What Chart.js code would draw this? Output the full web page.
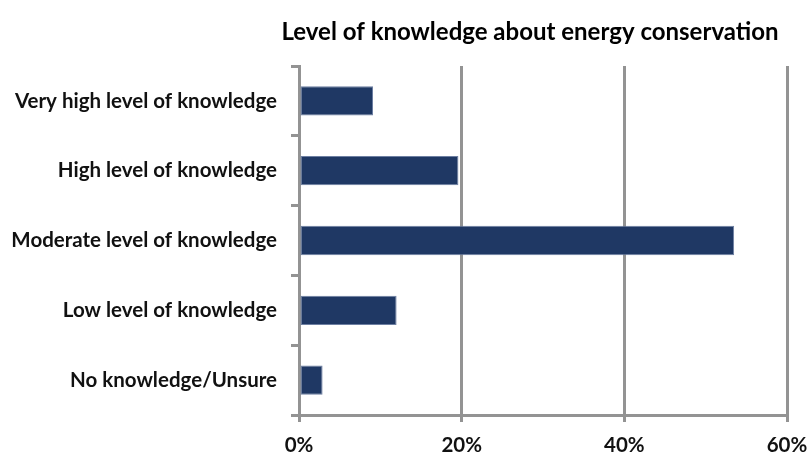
<!DOCTYPE html>
<html>
<head>
<meta charset="utf-8">
<script src="https://cdn.jsdelivr.net/npm/chart.js@4/dist/chart.umd.min.js"></script>
<style>
  html, body { margin: 0; padding: 0; background: #fff; }
  #wrap { width: 808px; height: 458px; }
</style>
</head>
<body>
<div id="wrap"><canvas id="knowledgeChart"></canvas></div>
<script>
const categories = [
  "Very high level of knowledge",
  "High level of knowledge",
  "Moderate level of knowledge",
  "Low level of knowledge",
  "No knowledge/Unsure"
];
const shares = [9.1, 19.6, 53.5, 12.0, 2.9];
const tickValues = [0, 20, 40, 60];
const chartTitle = "Level of knowledge about energy conservation";

const axisGrey = "#939393";
const labelFont = { family: "Lato", size: 20.5, weight: "bold" };

// title sits a little left of the plot centre, so draw it by hand
const titlePlugin = {
  id: "offsetTitle",
  afterDraw(chart) {
    const { ctx, chartArea } = chart;
    ctx.save();
    ctx.font = "bold 24px Lato";
    ctx.fillStyle = "#000";
    ctx.textAlign = "center";
    ctx.textBaseline = "middle";
    ctx.fillText(chartTitle, (chartArea.left + chartArea.right) / 2 - 13, 32);
    ctx.restore();
  }
};

new Chart(document.getElementById("knowledgeChart").getContext("2d"), {
  type: "bar",
  data: {
    labels: categories,
    datasets: [{
      data: shares,
      backgroundColor: "#1f3864",
      borderColor: "#6d7fa2",
      borderWidth: 1,
      borderSkipped: false,
      categoryPercentage: 1,
      barPercentage: 0.42
    }]
  },
  plugins: [titlePlugin],
  options: {
    indexAxis: "y",
    responsive: true,
    maintainAspectRatio: false,
    animation: false,
    layout: { padding: { left: 0, right: 21, top: 66, bottom: 0 } },
    plugins: {
      legend: { display: false },
      tooltip: { enabled: false },
      title: { display: false }
    },
    scales: {
      x: {
        min: 0,
        max: 60,
        afterBuildTicks: (scale) => {
          scale.ticks = tickValues.map(v => ({ value: v }));
        },
        afterFit: (scale) => {
          scale.height = 43;
          scale.paddingRight = 0;
        },
        grid: {
          color: axisGrey,
          lineWidth: 3,
          tickLength: 7,
          drawTicks: true
        },
        border: { color: axisGrey, width: 3 },
        ticks: {
          padding: 11,
          color: "#111",
          font: labelFont,
          callback: (v) => v + "%"
        }
      },
      y: {
        afterFit: (scale) => { scale.width = 299; },
        grid: {
          drawOnChartArea: false,
          drawTicks: true,
          tickLength: 8,
          color: axisGrey,
          lineWidth: 3
        },
        border: { color: axisGrey, width: 3 },
        ticks: {
          padding: 14,
          color: "#111",
          font: labelFont
        }
      }
    }
  }
});
</script>
</body>
</html>
